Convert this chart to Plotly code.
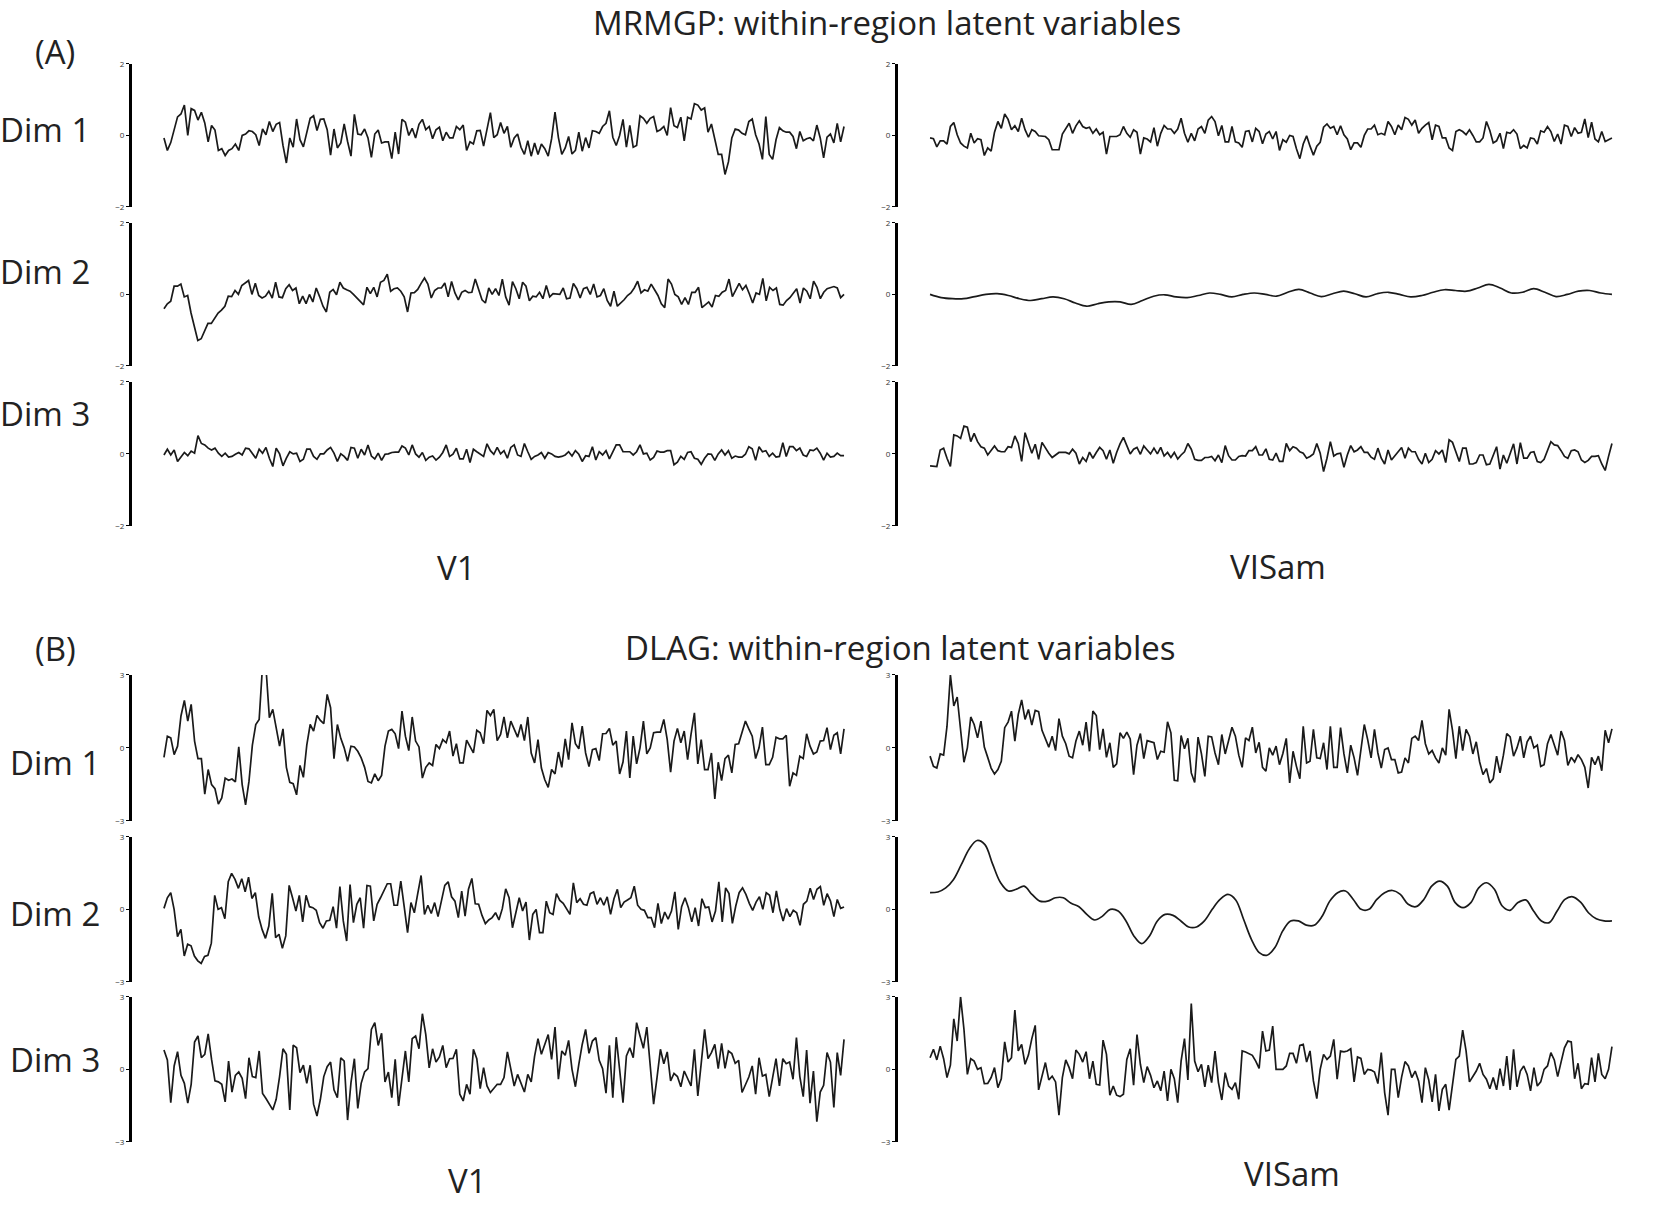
import plotly.graph_objects as go

# values (time runs left to right, ~200 samples per trace)
a_v1_dim1 = [-0.07,-0.42,-0.2,0.2,0.52,0.6,0.85,0,0.75,0.7,0.43,0.65,0.35,-0.18,0.28,0.15,-0.42,-0.37,-0.56,-0.42,-0.37,-0.24,-0.42,0,0.04,0.13,0.11,0.02,-0.28,0.18,0.02,0.39,0.11,0.31,0.36,-0.28,-0.77,-0.07,-0.33,0.46,-0.12,-0.32,0.06,0.48,0.55,0.14,0.45,0.46,0.16,-0.55,0.18,-0.35,-0.21,0.32,-0.17,-0.58,0.59,0.04,0.02,0.18,-0.07,-0.61,0.04,0.15,-0.21,-0.18,-0.18,-0.65,0.09,-0.52,0.45,0.37,0,0.2,-0.07,0.31,0.45,0.16,0.25,-0.09,0.16,0.23,-0.15,0.09,-0.07,-0.07,0.25,0.16,0.29,-0.42,-0.18,-0.24,0.13,0.14,-0.3,0.2,0.64,-0.06,0.02,0.36,0.06,0.25,-0.33,-0.07,0.04,-0.33,-0.53,-0.15,-0.58,-0.21,-0.53,-0.24,-0.37,-0.58,-0.09,0.65,-0.06,-0.53,-0.35,-0.03,-0.52,-0.42,0.09,-0.44,-0.06,-0.35,0.13,0.11,0.06,0.25,0.34,0.69,-0.05,-0.28,0,0.45,-0.33,0.28,-0.33,-0.28,0.55,0.48,0.34,0.48,0.53,0.11,0.16,0.25,0,0.78,0.27,0.22,0.51,-0.15,0.51,0.46,0.89,0.85,0.71,0.77,0.09,0.32,-0.07,-0.53,-0.53,-1.09,-0.74,-0.07,0.18,0.15,0.06,0.02,0.39,0.46,0.02,-0.24,-0.67,0.53,-0.53,-0.67,-0.12,0.22,0.13,0.09,0.09,-0.03,-0.37,0.11,-0.15,-0.09,-0.06,-0.15,0.29,-0.07,-0.63,-0.05,0.04,-0.21,0.34,-0.18,0.25]
a_visam_dim1 = [-0.07,-0.09,-0.32,-0.15,-0.15,-0.24,0.25,0.36,0.02,-0.21,-0.3,-0.35,0.06,-0.21,-0.09,-0.12,-0.56,-0.35,-0.44,0.09,0.39,0.2,0.6,0.45,0.16,0.27,0.11,0.48,0.16,-0.05,0.16,0.11,-0.01,-0.01,-0.03,-0.12,-0.4,-0.4,-0.4,0.04,0.18,0.34,0.06,0.27,0.41,0.25,0.2,0.23,0.06,0.18,0.02,0.09,-0.52,-0.03,-0.03,-0.03,0.02,0.25,0.06,-0.05,0.16,0.09,-0.52,-0.07,-0.1,-0.18,0.22,-0.3,0.06,0.28,0.18,0.18,0.06,0.18,0.48,0.06,-0.19,0.06,-0.15,0.18,0.25,0.06,0.43,0.53,0.39,-0.01,0.28,-0.18,-0.18,0.25,-0.18,-0.21,-0.33,0.11,0.13,-0.18,0.2,0.11,-0.23,0.04,0.11,-0.1,0.11,-0.42,-0.12,-0.19,0,-0.03,-0.37,-0.65,-0.24,-0.01,-0.3,-0.55,-0.3,-0.19,0.23,0.32,0.2,0.25,0.02,0.27,0.02,-0.1,-0.4,-0.21,-0.21,-0.33,0,0.18,0.18,0.29,0.02,0.06,0.02,0.39,0.25,0.02,0.29,0.16,0.5,0.45,0.29,0.43,0.06,0.2,0.29,0.36,-0.12,0.29,0.25,-0.07,-0.07,-0.35,-0.42,0.11,0.16,0.11,0.02,0.16,0,-0.18,-0.18,-0.07,0.39,0.14,-0.21,-0.15,0.06,-0.37,0.09,0.06,0.16,0.04,-0.37,-0.28,-0.35,-0.07,-0.09,-0.24,0.13,0.09,0.25,0.11,-0.17,0.04,-0.24,0.29,0.25,-0.03,0.22,0.06,0.09,0.46,-0.06,0.37,-0.1,-0.18,0.11,-0.17,-0.12,-0.07]
a_v1_dim2 = [-0.4,-0.26,-0.19,0.23,0.23,0.29,-0.07,-0.03,-0.52,-0.9,-1.29,-1.24,-1.04,-0.81,-0.81,-0.65,-0.52,-0.44,-0.33,-0.05,-0.06,0.11,0,0.25,0.31,0.39,0,0.31,-0.03,-0.1,-0.05,0.09,-0.1,0.34,-0.07,-0.09,0.16,0.27,0.11,0.18,-0.26,-0.05,-0.26,0,-0.21,0.18,-0.06,-0.33,-0.49,0.06,0.14,-0.01,0.34,0.18,0.13,0.09,0,-0.1,-0.18,-0.29,0.2,0.02,0.2,-0.07,0.34,0.39,0.57,0.09,0.16,0.18,0.09,-0.07,-0.49,0.04,0.05,0.14,0.31,0.46,0.29,-0.1,0.11,0.18,0.18,0.32,-0.07,0.36,0.04,-0.15,0.06,0.11,0.05,0.06,0.43,0.14,-0.15,-0.24,0.18,0,0.16,-0.03,0.43,-0.07,-0.3,0.36,0.16,-0.12,0.34,0.23,-0.18,-0.05,-0.07,0.06,-0.12,0.25,-0.07,0.02,0,0,0.18,-0.12,-0.1,0.31,0.16,-0.1,0.16,0.2,0,0.29,-0.07,-0.03,0.16,-0.17,-0.33,0.09,-0.33,-0.24,-0.15,-0.03,0.04,0.18,0.37,0.04,0.13,0.09,0.29,0.13,-0.03,-0.26,-0.37,0.43,0.29,0,-0.07,-0.28,-0.09,-0.28,0.06,0.06,0.2,-0.37,-0.28,-0.21,-0.35,-0.03,-0.05,0.06,0.11,0.43,-0.06,0.13,0.31,0.13,0.25,0.02,-0.24,0.04,0,0.45,-0.18,0.2,0.11,0.18,-0.28,-0.3,-0.17,-0.09,0.04,0.16,-0.24,0.18,0.09,-0.12,0.37,0.2,-0.12,0.06,0.16,0.2,0.22,0.18,-0.09,0]
a_visam_dim2 = [0,-0.09,-0.12,-0.12,-0.06,0,0.02,-0.03,-0.12,-0.17,-0.12,-0.07,-0.12,-0.24,-0.33,-0.26,-0.21,-0.21,-0.28,-0.17,-0.05,-0.01,-0.07,-0.09,-0.03,0.04,0,-0.07,0,0.04,0,-0.05,0.06,0.14,0.04,-0.06,0.02,0.09,0.02,-0.07,0.02,0.06,0,-0.07,-0.03,0.06,0.13,0.11,0.09,0.18,0.28,0.18,0.04,0.06,0.16,0.06,-0.06,0,0.09,0.11,0.04,0]
a_v1_dim3 = [-0.03,0.13,-0.03,0.11,-0.21,-0.1,0.04,-0.05,0.08,0.02,0.51,0.29,0.25,0.16,0.11,0.16,0.02,-0.07,0.02,-0.09,-0.07,-0.01,0.04,-0.03,0.16,0.14,0.02,-0.12,0.13,0.02,0.18,-0.12,-0.35,0.16,0,-0.33,-0.12,0.06,0,0.02,-0.21,-0.15,0.13,0.13,-0.07,-0.15,0,0,0.11,0.18,0.02,-0.21,0,-0.07,-0.18,0.18,0.16,-0.12,0.13,-0.03,0.25,-0.06,-0.14,0.02,-0.18,-0.01,0,0.04,0.05,0.05,0.22,0.16,-0.03,0.25,0,-0.09,0.04,-0.18,-0.09,-0.06,-0.17,-0.09,0.04,0.25,-0.07,-0.01,0.16,-0.14,-0.14,0.13,-0.24,0.13,0.06,0,-0.07,0.28,0.09,-0.01,0.18,0,0.09,-0.12,0.18,0.25,-0.03,-0.07,0.29,0.06,-0.15,-0.07,-0.03,0.04,-0.12,0.04,0,-0.07,-0.09,-0.07,-0.03,0.06,-0.06,0.09,-0.01,-0.21,-0.05,-0.07,0.2,-0.17,0.06,-0.03,0.09,-0.14,0.04,0.25,0.25,0.06,0.06,0.06,-0.03,0.06,0.25,0,0.02,-0.17,-0.1,0.08,0.05,0.05,0.09,0.09,-0.3,-0.23,-0.07,-0.15,0.04,0.06,-0.12,-0.15,-0.29,-0.12,0,-0.01,-0.18,0,0.11,-0.03,0.09,-0.12,-0.06,-0.09,-0.09,-0.01,0.2,0.14,-0.18,0.2,0.06,0.09,-0.07,0.02,-0.09,-0.07,0.31,-0.07,0.2,0.2,0.09,0.16,-0.03,-0.07,0.11,0.09,0.16,0.02,-0.17,0.02,-0.09,-0.07,0.02,-0.05,-0.05]
a_visam_dim3 = [-0.33,-0.33,-0.35,0.11,0.16,-0.12,-0.35,0.53,0.5,0.43,0.77,0.74,0.34,0.57,0.34,0.2,0.16,-0.03,0.11,0.22,0.09,0.06,0.06,0.2,0.18,0.5,0.29,-0.21,0.59,0.29,0.02,0.27,-0.15,0.32,0.16,0.02,-0.1,-0.03,0.04,0.04,0.04,0,0.13,0.02,-0.28,-0.1,-0.21,0.05,-0.12,0.04,0.18,0.09,-0.15,0.11,-0.26,0.04,0.28,0.46,0.22,0,0.13,0.18,-0.01,0.22,0.11,0,0.16,0,0.18,-0.06,0.04,-0.1,0.04,-0.14,-0.03,0.06,0.29,0.13,-0.15,-0.18,-0.18,-0.1,-0.1,-0.07,-0.19,-0.03,-0.24,0.23,-0.05,-0.17,-0.17,-0.07,-0.05,-0.06,0.09,0.09,0.2,-0.03,-0.03,0.14,-0.15,-0.17,0.02,-0.21,-0.21,0.29,0.09,0.2,0.16,0.06,0.02,-0.12,-0.07,0,0.29,0.02,-0.49,-0.12,0.34,-0.06,0,0.02,-0.37,-0.03,0.23,0.06,0.11,0.2,0.04,0.04,-0.09,-0.15,0.16,-0.12,-0.28,0.11,-0.17,-0.06,0.04,0.18,-0.12,0.16,0.06,0.06,-0.15,-0.28,0.02,-0.24,-0.15,0.09,0,0.11,-0.24,0.39,0.32,0.06,-0.21,0.16,0.16,-0.28,-0.28,-0.24,-0.03,-0.03,-0.3,-0.28,-0.03,0.2,-0.42,-0.03,-0.26,0.04,0.28,-0.28,0.31,-0.12,-0.12,0.04,0.06,-0.21,-0.24,-0.15,0.11,0.34,0.25,0.23,0.09,-0.07,-0.12,0.09,0.11,0.06,-0.17,-0.24,-0.18,-0.07,-0.07,-0.05,-0.28,-0.46,-0.07,0.29]

b_v1_dim1 = [-0.39,0.48,0.41,-0.28,0.07,1.31,1.95,1.1,1.79,0.28,-0.44,-0.44,-1.9,-0.89,-1.51,-1.68,-2.31,-2.06,-1.24,-1.33,-1.28,-1.4,0.04,-1.51,-2.34,-1.38,0.11,0.96,1.17,3.4,3.3,1.24,1.58,0.76,0.07,0.78,-0.8,-1.42,-1.47,-1.93,-0.72,-1.21,0.11,0.96,0.69,1.33,1.13,1.0,2.2,1.65,-0.44,0.96,0.39,0,-0.55,0.07,0.04,-0.14,-0.41,-0.8,-1.38,-1.44,-1.07,-1.35,-1.13,0.07,0.69,0.76,0.58,-0.03,1.51,0.48,-0.11,1.27,0.28,0.04,-1.24,-0.8,-0.62,-0.72,0.14,-0.03,0.34,0.21,0.69,-0.34,0.17,-0.62,-0.62,0.32,0.07,-0.21,0.72,0.62,0.17,1.54,1.33,1.58,0.3,0.55,1.27,0.41,1.1,0.78,0.44,0.96,0.3,1.27,-0.21,-0.62,0.34,-0.83,-1.31,-1.62,-0.89,-1.07,-0.17,-0.8,0.37,-0.48,1.03,0.17,-0.04,0.89,-0.21,-0.77,-0.07,-0.03,-0.52,0.58,0.59,0.8,0.11,0.28,-1.07,-0.58,0.69,-1.24,0.48,-0.66,0,1.1,-0.25,0,0.62,0.65,0.65,1.17,0.34,-1.0,0.28,0.8,0.21,0.69,-0.48,0.55,1.44,-0.66,0.34,-0.89,-0.89,-0.21,-2.1,-0.59,-1.35,-0.44,-0.3,-1.03,0.14,0.17,0.62,1.1,0.78,0.48,-0.44,0,0.85,-0.69,-0.69,-0.39,0.44,0.37,0.37,0.52,-1.58,-1.03,-1.13,-0.34,-0.44,0.58,0.07,-0.25,-0.17,0.28,0.3,0.83,-0.07,0.52,0.62,-0.25,0.78]
b_visam_dim1 = [-0.34,-0.76,-0.83,-0.25,-0.3,0.89,3.0,1.72,2.09,0.83,-0.59,0,1.27,0.96,0.41,1.1,0.03,-0.39,-0.83,-1.07,-0.89,-0.55,0.83,1.06,1.51,0.28,1.38,1.97,1.17,1.58,0.94,1.54,1.49,0.72,0.41,0.03,0.48,-0.11,1.2,0.48,0.17,-0.34,-0.41,0.28,0.69,0.11,1.06,-0.14,1.51,1.33,-0.07,0.78,-0.39,0.21,-0.8,-0.66,0.62,0.39,0.65,0.37,-1.1,0.11,0.59,-0.44,0.3,0.25,0.21,-0.48,-0.14,-0.18,1.07,0.62,-1.33,-1.35,0.51,-0.04,0.39,-1.03,-1.42,0.44,-0.25,-1.17,0.48,0.45,-0.21,-0.69,0.55,-0.25,0.25,0.85,0.48,-0.3,-0.8,0.41,0.3,0.85,-0.21,0.23,-0.8,-0.96,0,-0.3,0.07,-0.69,-0.23,0.39,-1.44,-0.14,-0.76,-1.27,0.89,-0.62,-0.55,0.76,-0.41,-0.44,0.21,-0.89,0.89,-0.8,-0.8,0.83,-0.25,-1.03,0.11,-0.41,-1.13,-0.11,0.96,0.34,-0.41,0.76,-0.21,-0.83,-0.07,0,-0.48,-0.48,-1.03,-0.99,-0.41,-0.62,0.39,0.48,0.3,1.13,0.17,-0.25,-0.11,-0.41,-0.62,0,-0.3,1.58,0.72,-0.44,0.89,-0.11,0.76,0.48,-0.25,0.25,-0.58,-1.1,-0.85,-1.44,-1.27,-0.34,-1.03,-0.3,0.59,0.45,-0.34,0,0.48,-0.41,0.25,0.48,0,0.11,-0.76,-0.69,0.17,0.55,0.07,-0.3,0.69,0.3,-0.72,-0.39,-0.58,-0.28,-0.48,-0.8,-1.65,-0.39,-0.69,-0.34,-0.94,0.72,0.21,0.78]
b_v1_dim2 = [0.04,0.48,0.69,0,-1.13,-0.83,-1.93,-1.44,-1.51,-1.93,-2.13,-2.24,-1.95,-1.9,-1.4,0.58,0,0.07,-0.39,1.14,1.49,1.24,0.87,1.27,0.73,1.33,0.45,0.69,-0.32,-0.83,-1.2,-0.69,0.66,-1.17,-1.03,-1.61,-1.1,0.99,0.48,-0.07,0.58,-0.52,0.58,0.11,0.07,-0.04,-0.55,-0.78,-0.48,-0.45,0.11,-0.78,0.94,-0.48,-1.31,1.03,-0.55,0.21,0.48,-0.78,0.99,0.96,-0.48,0.21,0.48,0.76,1.06,1.06,0.17,0.17,1.17,0.11,-0.96,0.28,-0.14,0.65,1.4,-0.21,0.17,-0.17,0.28,-0.3,0.37,0.99,1.14,0.52,0.34,-0.34,0.76,-0.28,0.83,1.28,0.23,0.21,-0.25,-0.59,-0.44,-0.34,-0.14,-0.44,0.03,0.85,0.48,-0.76,-0.14,0.48,-0.07,0.3,-1.27,-0.21,0,-0.96,-0.96,0.34,-0.14,-0.21,0.65,0.37,0.25,0,-0.21,1.1,0.28,0.44,0.21,0.17,0.65,0.72,0.21,0.48,0.17,0.52,-0.21,0.44,0.83,0.07,0.3,0.39,0.48,0.96,0.17,0,-0.04,-0.34,-0.34,-0.76,0.25,-0.59,-0.11,-0.41,-0.07,0.72,-0.83,0.11,0.48,0.07,-0.52,0.07,-0.69,0.44,0.07,0.1,-0.52,-0.07,1.14,-0.52,0.89,0.65,-0.58,0.14,0.69,0.89,0.62,0.25,-0.04,0.3,0.52,0,0.69,0.58,-0.14,0.76,0,-0.48,0.03,-0.3,-0.04,-0.14,-0.66,0.21,0.34,0.87,0.41,0.83,0.94,0.17,0.65,0.34,-0.3,0.41,0.04,0.1]
b_visam_dim2 = [0.69,0.72,0.89,1.24,1.86,2.5,2.85,2.68,1.86,1.1,0.76,0.83,0.96,0.62,0.34,0.34,0.48,0.48,0.25,0.11,-0.21,-0.44,-0.28,0,-0.07,-0.48,-1.1,-1.42,-1.1,-0.48,-0.21,-0.25,-0.48,-0.73,-0.73,-0.48,0,0.41,0.62,0.39,-0.41,-1.24,-1.79,-1.9,-1.58,-0.89,-0.48,-0.48,-0.65,-0.66,-0.3,0.34,0.69,0.76,0.41,0,0,0.41,0.69,0.78,0.62,0.21,0.11,0.41,0.96,1.17,0.96,0.28,0.07,0.28,0.89,1.1,0.83,0.14,-0.04,0.28,0.39,-0.07,-0.48,-0.55,-0.07,0.41,0.52,0.3,-0.14,-0.39,-0.48,-0.48]
b_v1_dim3 = [0.8,0.39,-1.38,0.14,0.73,-0.25,-0.58,-1.4,-0.62,1.13,1.38,0.48,0.62,1.47,0.41,-0.48,-0.52,-0.62,-1.35,0.34,-0.94,-0.25,-0.11,-0.37,-1.21,0.48,-0.3,-0.34,0.76,-1.0,-1.21,-1.44,-1.68,-1.24,-0.3,0.85,0.62,-1.68,1.0,0.89,-0.14,0.17,-0.58,0.17,-1.44,-1.93,-1.24,-0.3,0.11,0.3,-0.85,-1.17,0.48,0.34,-2.1,-0.55,0.44,-1.62,-0.58,-0.11,0.03,1.65,1.93,0.99,1.49,-0.52,-0.11,-1.17,0.41,-1.51,-0.48,0.76,-0.52,1.27,1.38,0.85,2.3,1.44,0.06,0.85,0.3,0.51,0.99,0.07,0.44,0.45,0.83,-1.03,-1.31,-0.62,-1.03,0.83,0.44,-0.8,0.07,-0.69,-0.96,-0.8,-0.62,-0.62,-0.34,0.72,0,-0.69,-0.21,-0.62,-0.94,-0.21,-0.52,0.55,1.27,0.62,0.99,1.44,0.41,1.75,-0.41,0.76,0.58,1.2,0,-0.72,0.21,1.03,1.65,0.66,1.17,1.31,0.37,0.03,-0.99,0.99,-1.17,1.33,0,-1.38,0.55,0.89,0.48,1.93,1.38,0.87,1.75,0.07,-1.44,-0.34,0.83,0.23,0.72,-0.48,-0.17,-0.3,-0.72,-0.07,-0.39,-0.69,0.83,-1.1,0.25,1.65,0.44,0.69,1.03,0.03,1.07,0.04,0.76,0.65,0.25,0.37,-0.96,-0.62,-0.32,0.14,-1.03,0.48,-0.28,-0.21,-1.13,-0.34,0.44,-0.69,0.44,0.23,0.3,-0.41,1.31,-0.3,-1.13,0.8,-1.4,-0.07,-2.17,-0.94,-0.66,0.69,0.3,-1.58,0.69,-0.25,1.24]
b_visam_dim3 = [0.48,0.83,0.39,0.96,0.44,-0.34,0.17,2.09,1.17,3.0,1.65,-0.21,0.44,0.34,0,0.07,-0.59,-0.58,-0.34,0.07,-0.76,-0.39,1.14,0.3,0.48,2.45,0.76,1.03,0.21,0.59,1.27,1.82,-0.85,-0.25,0.28,-0.44,-0.28,-0.52,-1.9,-0.34,0.39,0.07,-0.39,0.8,0.62,0.3,0.73,-0.39,0.34,-0.62,-0.65,1.21,0.62,-1.07,-0.69,-1.07,-1.13,-1.03,0.41,0.85,-0.66,1.44,0.21,-0.55,0.11,-0.25,-0.76,-0.48,-0.89,-0.07,-1.31,0,-0.39,-1.38,0.34,1.27,-0.44,2.72,0.34,-0.1,0.21,-0.73,0.17,-0.55,0.76,-0.55,-1.27,-0.14,-0.69,-0.83,-0.55,-1.24,0.76,0.72,0.66,0.58,0.34,0.04,1.58,0.76,0.8,1.79,0,0,0,0.14,0.66,0.66,0.25,0.99,1.03,0.3,0.76,-0.48,-1.21,0,0.62,0.41,0.55,1.24,-0.41,0.76,0.72,0.76,0.85,-0.52,0.51,0.45,-0.21,0,-0.03,-0.11,-0.59,0.69,-0.96,-1.9,0,0,-1.17,-0.32,0.32,0.14,-0.34,-0.07,-0.48,-1.38,0.07,-0.44,-1.35,-0.21,-1.72,-0.83,-0.62,-1.69,-0.69,0.41,0.55,1.62,0.76,-0.52,-0.3,-0.07,0.25,-0.21,-0.41,-0.8,-0.34,-0.85,0.03,-0.69,0.55,-0.85,0.83,-0.72,-0.07,0.14,-0.21,-0.89,0.07,-0.69,-0.52,0,0.14,0.69,0.39,-0.3,0.3,0.89,1.17,1.13,-0.39,0.25,-0.8,-0.59,-0.62,0.48,-0.52,0.66,-0.21,-0.39,0,0.94]

dim_labels = ["Dim 1", "Dim 2", "Dim 3"]
region_labels = ["V1", "VISam"]

# (series, y-limit, smooth?) per panel, rows top to bottom, V1 then VISam
panels = [
    (a_v1_dim1, 2, False), (a_visam_dim1, 2, False),
    (a_v1_dim2, 2, False), (a_visam_dim2, 2, True),
    (a_v1_dim3, 2, False), (a_visam_dim3, 2, False),
    (b_v1_dim1, 3, False), (b_visam_dim1, 3, False),
    (b_v1_dim2, 3, False), (b_visam_dim2, 3, True),
    (b_v1_dim3, 3, False), (b_visam_dim3, 3, False),
]

# figure fills the whole page; body margin is removed in the page script below
W, H = 1660, 1206
FONT = "Open Sans, Lato, sans-serif"
# the snapshot came out ~1% squashed vertically round the middle, undo that
Y_MID, Y_SQUASH = 560, 0.991

# page-pixel layout of the panels (top, bottom) and columns (axis line, right edge)
row_px = [(63, 206), (222, 365), (381, 525), (674, 820), (836, 981), (996, 1141)]
col_px = [(132, 876), (898, 1644)]


def px_x(x):
    return x / W


def px_y(y):
    y = Y_MID + (y - Y_MID) / Y_SQUASH
    return 1 - y / H


fig = go.Figure()
for k, (vals, lim, smooth) in enumerate(panels):
    r, c = divmod(k, 2)
    n = len(vals)
    t = [i / (n - 1) for i in range(n)]
    ax = "" if k == 0 else str(k + 1)
    fig.add_trace(go.Scatter(
        x=t, y=vals, mode="lines", xaxis="x" + ax, yaxis="y" + ax,
        line=dict(color="#1a1a1a", width=1.7,
                  shape="spline" if smooth else "linear", smoothing=1.0),
        showlegend=False, hoverinfo="skip",
    ))
    fig.layout["xaxis" + ax] = dict(
        domain=[px_x(col_px[c][0]), px_x(col_px[c][1])],
        range=[-0.047, 1.047], visible=False, anchor="y" + ax)
    fig.layout["yaxis" + ax] = dict(
        domain=[px_y(row_px[r][1]), px_y(row_px[r][0])],
        range=[-lim, lim], anchor="x" + ax,
        tickvals=[-lim, 0, lim], showgrid=False, zeroline=False,
        showline=True, linecolor="black", linewidth=3,
        ticks="outside", ticklen=3, tickwidth=1, tickcolor="black",
        tickfont=dict(size=8, color="#333333", family=FONT))

big = dict(family=FONT, size=33, color="#222222")
ann = []
ann.append(dict(x=887, y=22, text="MRMGP: within-region latent variables"))
ann.append(dict(x=900, y=647, text="DLAG: within-region latent variables"))
ann.append(dict(x=55, y=51, text="(A)"))
ann.append(dict(x=55, y=648, text="(B)"))
for i, lab in enumerate(dim_labels):
    ann.append(dict(x=45, y=[129, 271, 413][i], text=lab))
    ann.append(dict(x=55, y=[762, 913, 1059][i], text=lab))
ann.append(dict(x=456, y=567, text=region_labels[0]))
ann.append(dict(x=1278, y=566, text=region_labels[1]))
ann.append(dict(x=467, y=1180, text=region_labels[0]))
ann.append(dict(x=1292, y=1173, text=region_labels[1]))

fig.update_layout(
    width=W, height=H, margin=dict(l=0, r=0, t=0, b=0),
    paper_bgcolor="white", plot_bgcolor="white",
    annotations=[dict(x=px_x(a["x"]), y=px_y(a["y"]), xref="paper", yref="paper",
                      text=a["text"], showarrow=False, font=big,
                      xanchor="center", yanchor="middle") for a in ann],
)

fig.write_html("out.html", config={"displayModeBar": False},
               post_script="document.body.style.margin='0';"
                           "document.body.style.overflow='hidden';")
